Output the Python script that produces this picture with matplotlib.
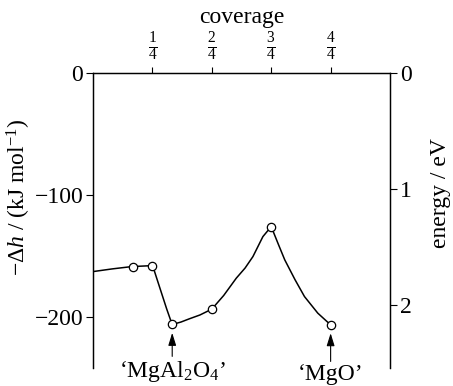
import matplotlib
matplotlib.use('Agg')
import matplotlib.pyplot as plt

plt.rcParams['font.family'] = ['Liberation Serif', 'DejaVu Serif']
plt.rcParams['mathtext.fontset'] = 'custom'
plt.rcParams['mathtext.rm'] = 'Liberation Serif'
plt.rcParams['mathtext.it'] = 'Liberation Serif:italic'

# computed points (open circles)
cov_pts = [1/6, 1/4, 1/3, 1/2, 3/4, 1.0]
dh_pts = [-158.8, -158.0, -206.3, -193.7, -126.0, -206.6]

# guide curve
cov_line = [0.0, 0.081, 0.163, 0.251, 0.27, 0.288, 0.31, 0.333, 0.37, 0.406, 0.45,
            0.5, 0.55, 0.603, 0.64, 0.673, 0.715, 0.75, 0.78, 0.807, 0.85, 0.89,
            0.946, 1.0]
dh_line = [-162.9, -160.7, -158.8, -158.0, -169.5, -180.3, -193.5, -206.3, -204.3,
           -201.6, -198.5, -193.7, -182.5, -168.3, -160.0, -150.6, -134.2, -126.0,
           -140.5, -153.3, -169.5, -183.4, -197.0, -206.6]

cov_ticks = [0.25, 0.5, 0.75, 1.0]
cov_labels = [r'$\frac{1}{4}$', r'$\frac{2}{4}$', r'$\frac{3}{4}$', r'$\frac{4}{4}$']
dh_ticks = [0, -100, -200]
ev_ticks = [0, 1, 2]
kj_per_ev = 95.0

fig = plt.figure(figsize=(4.53, 3.86), dpi=100)
ax = fig.add_axes([0.2053, 0.0466, 0.6557, 0.7643])

ax.plot(cov_line, dh_line, color='black', lw=1.1, zorder=2)
ax.plot(cov_pts, dh_pts, 'o', ms=6, mfc='white', mec='black', mew=0.9, zorder=3)

ax.set_xlim(0, 1.25)
ax.set_ylim(-242, 0)

ax.spines['bottom'].set_visible(False)
for s in ['left', 'right', 'top']:
    ax.spines[s].set_linewidth(0.9)

ax.xaxis.set_ticks_position('top')
ax.xaxis.set_label_position('top')
ax.set_xticks(cov_ticks)
ax.set_xticklabels(cov_labels, fontsize=16)
ax.tick_params(axis='x', direction='out', length=4, width=0.8, pad=3)
ax.set_xlabel('coverage', fontsize=17, labelpad=5)

ax.set_yticks(dh_ticks)
ax.tick_params(axis='y', direction='out', length=5, width=0.8, labelsize=17, pad=2)
ax.set_ylabel(r'$-\Delta h$ / (kJ mol$^{-1}$)', fontsize=17)
ax.yaxis.set_label_coords(-0.202, 0.58)

ax2 = ax.twinx()
ax2.set_ylim(242 / kj_per_ev, 0)
ax2.set_yticks(ev_ticks)
ax2.tick_params(axis='y', direction='out', length=5, width=0.8, labelsize=17, pad=2)
ax2.set_ylabel('energy / eV', fontsize=17)
ax2.yaxis.set_label_coords(1.135, 0.593)
ax2.spines['bottom'].set_visible(False)
for s in ['left', 'right', 'top']:
    ax2.spines[s].set_linewidth(0.9)

arrow = dict(arrowstyle='-|>,head_length=0.45,head_width=0.14', lw=0.8, color='black',
             shrinkA=0, shrinkB=6)
ax.annotate('\u2018MgAl$_2$O$_4$\u2019', xy=(cov_pts[2], dh_pts[2]), xytext=(cov_pts[2], -245),
            ha='center', va='center', fontsize=17, arrowprops=arrow, annotation_clip=False)
ax.annotate('\u2018MgO\u2019', xy=(cov_pts[5], dh_pts[5]), xytext=(cov_pts[5], -247.5),
            ha='center', va='center', fontsize=17, arrowprops=arrow, annotation_clip=False)

fig.savefig('out.png', dpi=100)
